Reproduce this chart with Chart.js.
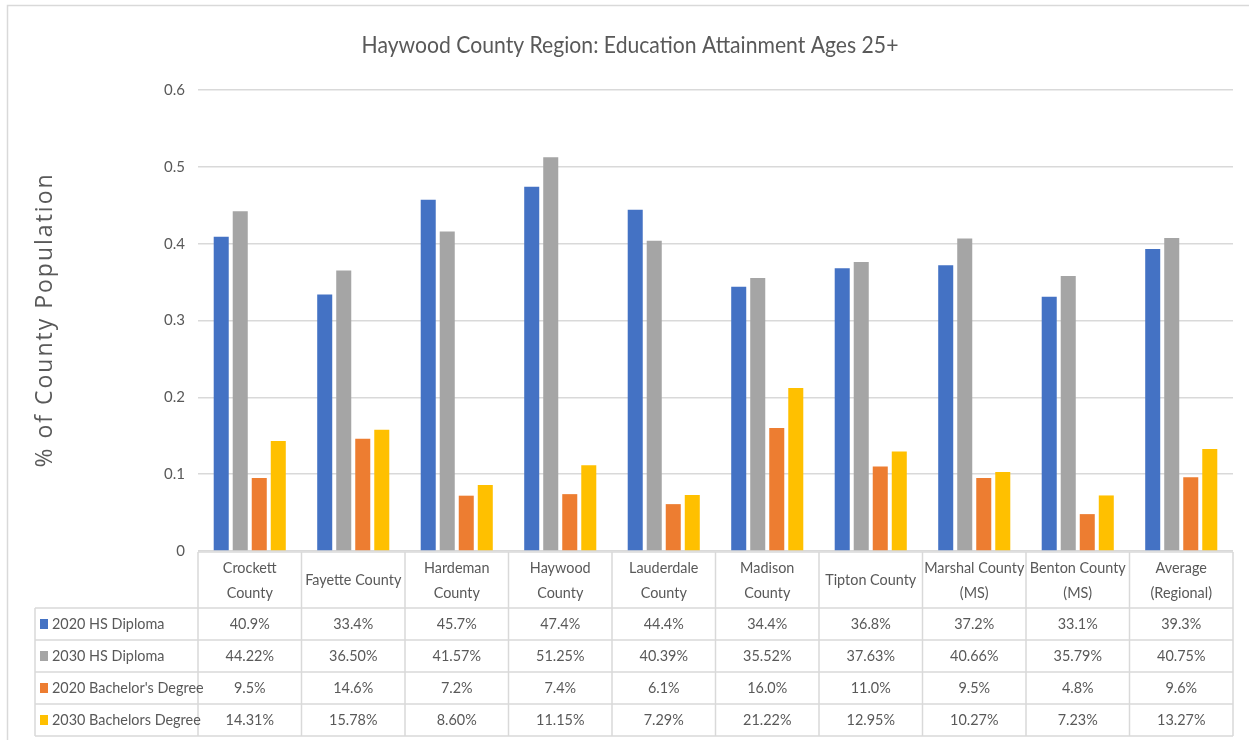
<!DOCTYPE html>
<html>
<head>
<meta charset="utf-8">
<script src="https://cdn.jsdelivr.net/npm/chart.js@4.4.0/dist/chart.umd.min.js"></script>
<style>
  html, body { margin: 0; padding: 0; background: #fff; }
  #wrap { width: 1249px; height: 740px; position: relative; }
</style>
</head>
<body>
<div id="wrap"><canvas id="grafico"></canvas></div>
<script>
// categorias (lineas del encabezado de la tabla)
var condados = [
    ['Crockett', 'County'], 'Fayette County', ['Hardeman', 'County'], ['Haywood', 'County'],
    ['Lauderdale', 'County'], ['Madison', 'County'], 'Tipton County', ['Marshal County', '(MS)'],
    ['Benton County', '(MS)'], ['Average', '(Regional)']
];
var series = ['2020 HS Diploma', '2030 HS Diploma', "2020 Bachelor's Degree", '2030 Bachelors Degree'];
var hs2020 = [0.409, 0.334, 0.457, 0.474, 0.444, 0.344, 0.368, 0.372, 0.331, 0.393];
var hs2030 = [0.4422, 0.3650, 0.4157, 0.5125, 0.4039, 0.3552, 0.3763, 0.4066, 0.3579, 0.4075];
var ba2020 = [0.095, 0.146, 0.072, 0.074, 0.061, 0.160, 0.110, 0.095, 0.048, 0.096];
var ba2030 = [0.1431, 0.1578, 0.0860, 0.1115, 0.0729, 0.2122, 0.1295, 0.1027, 0.0723, 0.1327];
var decimales = [1, 2, 1, 2];
var colores = ['#4472C4', '#A5A5A5', '#ED7D31', '#FFC000'];

var titulo = 'Haywood County Region: Education Attainment Ages 25+';
var tituloY = '% of County Population';

var gris = '#595959';
var linea = '#d9d9d9';
var fuente = "Lato, 'Liberation Sans', sans-serif";

// texto un poco comprimido (parecido a Calibri)
function texto(ctx, s, x, y, align) {
    ctx.save();
    ctx.translate(x, y);
    ctx.scale(0.9, 1);
    ctx.textAlign = align || 'center';
    ctx.fillText(s, 0, 0);
    ctx.restore();
}

// titulos y tabla de datos debajo del grafico (como en Excel)
var tablaPlugin = {
    id: 'tablaDatos',
    beforeDraw: function (chart) {
        var ctx = chart.ctx;
        ctx.save();
        ctx.fillStyle = '#fff';
        ctx.fillRect(0, 0, chart.width, chart.height);
        ctx.strokeStyle = linea;
        ctx.lineWidth = 1.5;
        ctx.strokeRect(7.5, 5.5, chart.width + 20, chart.height + 20);

        ctx.fillStyle = gris;
        ctx.textBaseline = 'middle';
        ctx.font = '23.5px ' + fuente;
        texto(ctx, titulo, 630, 45);

        ctx.translate(45, 320);
        ctx.rotate(-Math.PI / 2);
        ctx.font = "23px 'Open Sans', sans-serif";
        ctx.letterSpacing = '2px';
        ctx.textAlign = 'center';
        ctx.fillText(tituloY, 0, 0);
        ctx.restore();
    },
    afterDraw: function (chart) {
        var ctx = chart.ctx;
        var x = chart.scales.x;
        var area = chart.chartArea;
        var n = condados.length;
        var w = (x.right - x.left) / n;
        var top = area.bottom + 1;
        var altoEnc = 56, altoFila = 32;
        var izq = 35;
        var filasTop = top + altoEnc;
        var fondo = filasTop + altoFila * series.length;

        ctx.save();
        ctx.strokeStyle = linea;
        ctx.lineWidth = 1.5;
        ctx.beginPath();
        // horizontales
        ctx.moveTo(x.left, top); ctx.lineTo(x.right, top);
        for (var r = 0; r <= series.length; r++) {
            var yy = filasTop + r * altoFila;
            ctx.moveTo(izq, yy); ctx.lineTo(x.right, yy);
        }
        // verticales
        ctx.moveTo(izq, filasTop); ctx.lineTo(izq, fondo);
        for (var c = 0; c <= n; c++) {
            var xx = x.left + c * w;
            ctx.moveTo(xx, top); ctx.lineTo(xx, fondo);
        }
        ctx.stroke();

        ctx.fillStyle = gris;
        ctx.font = '16px ' + fuente;
        ctx.textBaseline = 'middle';
        // encabezados
        for (var i = 0; i < n; i++) {
            var cx = x.getPixelForValue(i);
            var lab = condados[i];
            if (Array.isArray(lab)) {
                texto(ctx, lab[0], cx, top + altoEnc / 2 - 12.5);
                texto(ctx, lab[1], cx, top + altoEnc / 2 + 12.5);
            } else {
                texto(ctx, lab, cx, top + altoEnc / 2);
            }
        }
        // filas
        chart.data.datasets.forEach(function (ds, s) {
            var cy = filasTop + s * altoFila + altoFila / 2;
            ctx.fillStyle = ds.backgroundColor;
            ctx.fillRect(40, cy - 5, 8, 10);
            ctx.fillStyle = gris;
            texto(ctx, ds.label, 52, cy, 'left');
            ds.data.forEach(function (v, i) {
                texto(ctx, (v * 100).toFixed(decimales[s]) + '%', x.getPixelForValue(i), cy);
            });
        });
        ctx.restore();
    }
};

var ctx = document.getElementById('grafico').getContext('2d');
var chart = new Chart(ctx, {
    type: 'bar',
    data: {
        labels: condados,
        datasets: [
            { label: series[0], data: hs2020, backgroundColor: colores[0] },
            { label: series[1], data: hs2030, backgroundColor: colores[1] },
            { label: series[2], data: ba2020, backgroundColor: colores[2] },
            { label: series[3], data: ba2030, backgroundColor: colores[3] }
        ]
    },
    options: {
        responsive: true,
        maintainAspectRatio: false,
        animation: false,
        datasets: {
            bar: { categoryPercentage: 0.735, barPercentage: 0.79 }
        },
        layout: { padding: { left: 0, top: 90, right: 16, bottom: 189 } },
        plugins: {
            legend: { display: false },
            tooltip: { enabled: false },
            title: { display: false }
        },
        scales: {
            x: { display: false },
            y: {
                min: 0,
                max: 0.6,
                ticks: {
                    stepSize: 0.1,
                    color: gris,
                    padding: 13,
                    font: { family: fuente, size: 15 },
                    callback: function (v) { return Math.round(v * 10) / 10; }
                },
                grid: { color: linea, lineWidth: 1.5, drawTicks: false },
                border: { display: false },
                afterFit: function (scale) { scale.width = 198; }
            }
        }
    },
    plugins: [tablaPlugin]
});
</script>
</body>
</html>
